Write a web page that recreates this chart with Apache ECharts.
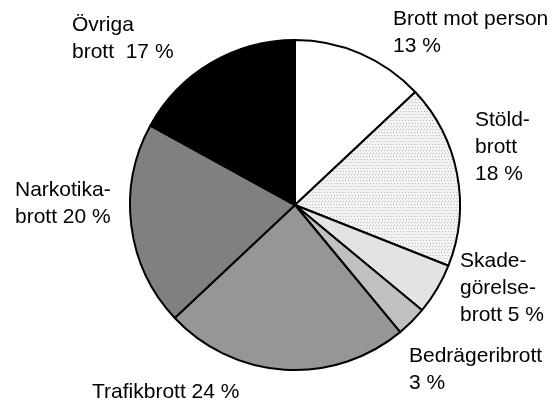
<!DOCTYPE html>
<html>
<head>
<meta charset="utf-8">
<script src="https://cdn.jsdelivr.net/npm/echarts@6/dist/echarts.min.js"></script>
<style>
  html, body { margin: 0; padding: 0; background: #fff; }
  #main { width: 557px; height: 406px; }
</style>
</head>
<body>
<div id="main"></div>
<script>
// andel brott per kategori (%), medurs från kl 12
const categories = ['Brott mot person', 'Stöldbrott', 'Skadegörelsebrott', 'Bedrägeribrott', 'Trafikbrott', 'Narkotikabrott', 'Övriga brott'];
const labelText = ['Brott mot person\n', 'Stöld-\nbrott\n', 'Skade-\ngörelse-\nbrott ', 'Bedrägeribrott\n', 'Trafikbrott ', 'Narkotika-\nbrott ', 'Övriga\nbrott  '];
const values = [13, 18, 5, 3, 24, 20, 17];

// prickig fyllning för stöldbrott
const dots = document.createElement('canvas');
dots.width = 6; dots.height = 6;
const dc = dots.getContext('2d');
dc.fillStyle = '#f2f2f2';
dc.fillRect(0, 0, 6, 6);
dc.fillStyle = '#bcbcbc';
dc.fillRect(0, 0, 1, 1);
dc.fillRect(3, 0, 1, 1);
dc.fillRect(1, 3, 1, 1);
dc.fillRect(4, 3, 1, 1);

const fills = ['#ffffff', { image: dots, repeat: 'repeat' }, '#e3e3e3', '#c0c0c0', '#969696', '#808080', '#000000'];
// etiketternas övre vänstra hörn
const labelPos = [[393, 6], [475, 107], [460, 248], [409, 343], [92, 379], [15, 177], [72, 12]];

const chart = echarts.init(document.getElementById('main'));
chart.setOption({
  animation: false,
  series: [{
    type: 'pie',
    center: [295, 205],
    radius: 165,
    startAngle: 90,
    clockwise: true,
    avoidLabelOverlap: false,
    itemStyle: { borderColor: '#000', borderWidth: 2 },
    emphasis: { disabled: true },
    label: {
      show: true,
      position: 'outside',
      color: '#000',
      fontFamily: 'Liberation Sans, Arial, sans-serif',
      fontSize: 21,
      lineHeight: 27,
      formatter: p => labelText[p.dataIndex] + p.value + ' %'
    },
    labelLine: { show: false },
    labelLayout: p => ({
      x: labelPos[p.dataIndex][0],
      y: labelPos[p.dataIndex][1],
      align: 'left',
      verticalAlign: 'top'
    }),
    data: categories.map((c, i) => ({
      name: c,
      value: values[i],
      itemStyle: { color: fills[i] }
    }))
  }]
});
</script>
</body>
</html>
